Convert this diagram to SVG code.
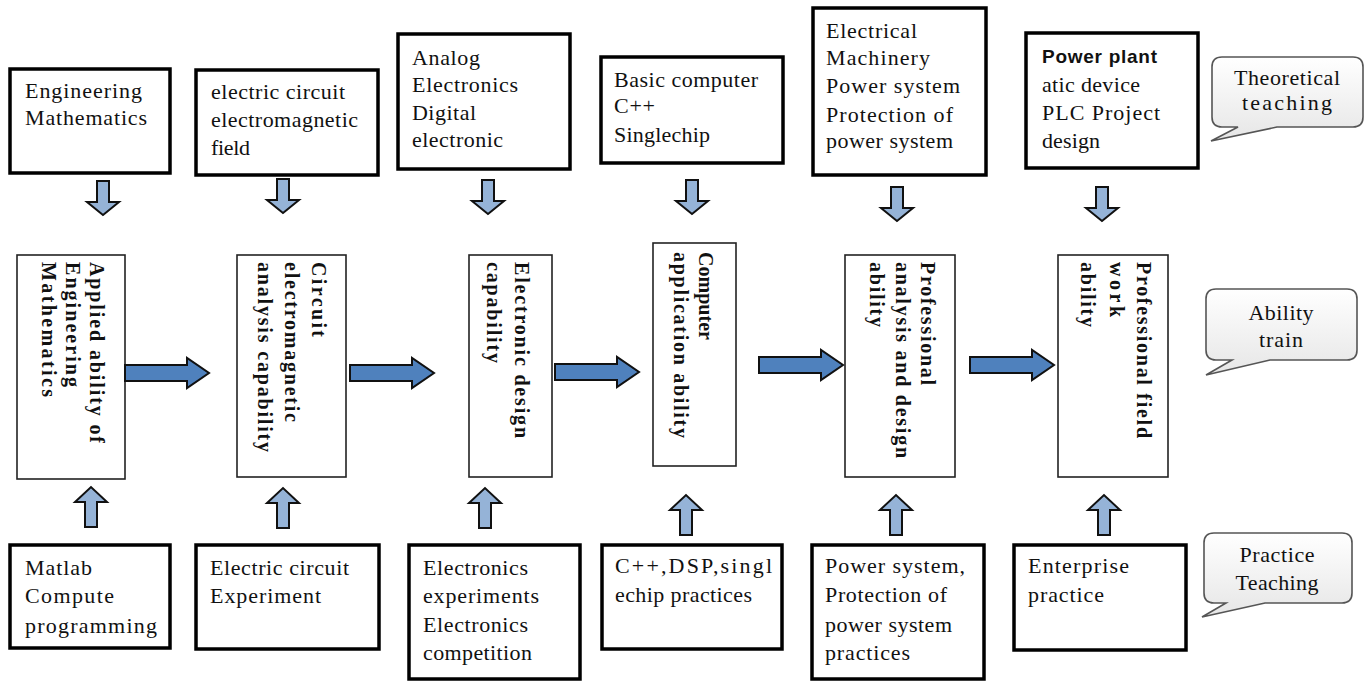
<svg xmlns="http://www.w3.org/2000/svg" width="1368" height="681" viewBox="0 0 1368 681">
<style>
.box{fill:#fff;stroke:#000;stroke-width:3.5}
.mid{fill:#fff;stroke:#222;stroke-width:1.6}
.t{font-family:"Liberation Serif","Times New Roman",serif;font-size:22px;fill:#111}
.v{font-family:"Liberation Serif","Times New Roman",serif;font-size:20px;font-weight:bold;fill:#111}
.s{font-family:"Liberation Sans",Arial,sans-serif;font-size:19px;font-weight:bold;fill:#111}
.c{font-family:"Liberation Serif","Times New Roman",serif;font-size:22px;fill:#111;text-anchor:middle}
.ha{fill:#4F81BD;stroke:#111;stroke-width:2}
.va{fill:#95B3D7;stroke:#111;stroke-width:2}
.call{fill:url(#cg);stroke:#555;stroke-width:1.6}
</style>
<defs>
<linearGradient id="cg" x1="0" y1="0" x2="0" y2="1"><stop offset="0" stop-color="#ffffff"/><stop offset="1" stop-color="#e6e6e6"/></linearGradient>
<path id="harrow" d="M0,-8 H62 V-15 L84,0 L62,15 V8 H0 Z"/>
<path id="darrow" d="M-6,0 H6 V21 H16 L0,34 L-16,21 H-6 Z"/>
<path id="uarrow" d="M-6,40 H6 V15 H16 L0,0 L-16,15 H-6 Z"/>
</defs>
<rect width="1368" height="681" fill="#fff"/>

<g id="theory1"><rect class="box" x="10" y="69" width="160" height="104"/>
<text class="t" x="25" y="98" textLength="117" lengthAdjust="spacing">Engineering</text>
<text class="t" x="25" y="125" textLength="122" lengthAdjust="spacing">Mathematics</text></g>
<g id="theory2"><rect class="box" x="196" y="70" width="182" height="105"/>
<text class="t" x="211" y="99" textLength="134" lengthAdjust="spacing">electric circuit</text>
<text class="t" x="211" y="127" textLength="147" lengthAdjust="spacing">electromagnetic</text>
<text class="t" x="211" y="155" textLength="39" lengthAdjust="spacing">field</text></g>
<g id="theory3"><rect class="box" x="398" y="34" width="172" height="135"/>
<text class="t" x="412" y="65" textLength="68" lengthAdjust="spacing">Analog</text>
<text class="t" x="412" y="92" textLength="106" lengthAdjust="spacing">Electronics</text>
<text class="t" x="412" y="120" textLength="64" lengthAdjust="spacing">Digital</text>
<text class="t" x="412" y="147" textLength="91" lengthAdjust="spacing">electronic</text></g>
<g id="theory4"><rect class="box" x="601" y="57" width="182" height="106"/>
<text class="t" x="614" y="87" textLength="144" lengthAdjust="spacing">Basic computer</text>
<text class="t" x="614" y="113" textLength="41" lengthAdjust="spacing">C++</text>
<text class="t" x="614" y="142" textLength="96" lengthAdjust="spacing">Singlechip</text></g>
<g id="theory5"><rect class="box" x="813" y="8" width="173" height="167"/>
<text class="t" x="826" y="38" textLength="91" lengthAdjust="spacing">Electrical</text>
<text class="t" x="826" y="65" textLength="104" lengthAdjust="spacing">Machinery</text>
<text class="t" x="826" y="93" textLength="134" lengthAdjust="spacing">Power  system</text>
<text class="t" x="826" y="122" textLength="127" lengthAdjust="spacing">Protection of</text>
<text class="t" x="826" y="148" textLength="127" lengthAdjust="spacing">power system</text></g>
<g id="theory6"><rect class="box" x="1026" y="33" width="172" height="135"/>
<text class="s" x="1042" y="63" textLength="115" lengthAdjust="spacing">Power plant</text>
<text class="t" x="1042" y="92" textLength="98" lengthAdjust="spacing">atic device</text>
<text class="t" x="1042" y="120" textLength="118" lengthAdjust="spacing">PLC Project</text>
<text class="t" x="1042" y="148" textLength="58" lengthAdjust="spacing">design</text></g>

<g id="ability1"><rect class="mid" x="17" y="255" width="108" height="224"/>
<g transform="translate(90,262) rotate(90)">
<text class="v" x="0" y="0" textLength="181" lengthAdjust="spacing">Applied ability  of</text>
<text class="v" x="0" y="24" textLength="125" lengthAdjust="spacing">Engineering</text>
<text class="v" x="0" y="48" textLength="135" lengthAdjust="spacing">Mathematics</text></g></g>
<g id="ability2"><rect class="mid" x="237" y="255" width="109" height="222"/>
<g transform="translate(312,262) rotate(90)">
<text class="v" x="0" y="0" textLength="75" lengthAdjust="spacing">Circuit</text>
<text class="v" x="0" y="27" textLength="160" lengthAdjust="spacing">electromagnetic</text>
<text class="v" x="0" y="54" textLength="190" lengthAdjust="spacing">analysis capability</text></g></g>
<g id="ability3"><rect class="mid" x="469" y="255" width="83" height="222"/>
<g transform="translate(515,262) rotate(90)">
<text class="v" x="0" y="0" textLength="176" lengthAdjust="spacing">Electronic design</text>
<text class="v" x="0" y="28" textLength="101" lengthAdjust="spacing">capability</text></g></g>
<g id="ability4"><rect class="mid" x="653" y="243" width="83" height="223"/>
<g transform="translate(699,252) rotate(90)">
<text class="v" x="0" y="0" textLength="88" lengthAdjust="spacing">Computer</text>
<text class="v" x="0" y="25" textLength="186" lengthAdjust="spacing">application ability</text></g></g>
<g id="ability5"><rect class="mid" x="845" y="255" width="110" height="222"/>
<g transform="translate(921,262) rotate(90)">
<text class="v" x="0" y="0" textLength="123" lengthAdjust="spacing">Professional</text>
<text class="v" x="0" y="25" textLength="196" lengthAdjust="spacing">analysis and design</text>
<text class="v" x="0" y="51" textLength="65" lengthAdjust="spacing">ability</text></g></g>
<g id="ability6"><rect class="mid" x="1058" y="255" width="110" height="222"/>
<g transform="translate(1137,262) rotate(90)">
<text class="v" x="0" y="0" textLength="176" lengthAdjust="spacing">Professional field</text>
<text class="v" x="0" y="27" textLength="55" lengthAdjust="spacing">work</text>
<text class="v" x="0" y="56" textLength="65" lengthAdjust="spacing">ability</text></g></g>

<g id="practice1"><rect class="box" x="10" y="545" width="160" height="103"/>
<text class="t" x="25" y="575" textLength="67" lengthAdjust="spacing">Matlab</text>
<text class="t" x="25" y="603" textLength="89" lengthAdjust="spacing">Compute</text>
<text class="t" x="25" y="633" textLength="132" lengthAdjust="spacing">programming</text></g>
<g id="practice2"><rect class="box" x="196" y="545" width="183" height="104"/>
<text class="t" x="210" y="575" textLength="139" lengthAdjust="spacing">Electric circuit</text>
<text class="t" x="210" y="603" textLength="111" lengthAdjust="spacing">Experiment</text></g>
<g id="practice3"><rect class="box" x="409" y="545" width="171" height="134"/>
<text class="t" x="423" y="575" textLength="105" lengthAdjust="spacing">Electronics</text>
<text class="t" x="423" y="603" textLength="116" lengthAdjust="spacing">experiments</text>
<text class="t" x="423" y="632" textLength="105" lengthAdjust="spacing">Electronics</text>
<text class="t" x="423" y="660" textLength="109" lengthAdjust="spacing">competition</text></g>
<g id="practice4"><rect class="box" x="602" y="545" width="180" height="104"/>
<text class="t" x="615" y="573" textLength="157" lengthAdjust="spacing">C++,DSP,singl</text>
<text class="t" x="615" y="602" textLength="137" lengthAdjust="spacing">echip practices</text></g>
<g id="practice5"><rect class="box" x="812" y="545" width="172" height="134"/>
<text class="t" x="825" y="573" textLength="140" lengthAdjust="spacing">Power  system,</text>
<text class="t" x="825" y="602" textLength="122" lengthAdjust="spacing">Protection of</text>
<text class="t" x="825" y="632" textLength="127" lengthAdjust="spacing">power system</text>
<text class="t" x="825" y="660" textLength="85" lengthAdjust="spacing">practices</text></g>
<g id="practice6"><rect class="box" x="1014" y="545" width="172" height="105"/>
<text class="t" x="1028" y="573" textLength="101" lengthAdjust="spacing">Enterprise</text>
<text class="t" x="1028" y="602" textLength="76" lengthAdjust="spacing">practice</text></g>

<g id="callout-theory">
<path class="call" d="M1222,57 H1353 Q1363,57 1363,67 V117 Q1363,127 1353,127 H1277 L1211,141 L1238,127 H1222 Q1212,127 1212,117 V67 Q1212,57 1222,57 Z"/>
<text class="c" x="1287" y="85" textLength="106" lengthAdjust="spacing">Theoretical</text>
<text class="c" x="1287" y="110" textLength="90" lengthAdjust="spacing">teaching</text></g>
<g id="callout-ability">
<path class="call" d="M1216,289 H1347 Q1357,289 1357,299 V350 Q1357,360 1347,360 H1270 L1206,375 L1232,360 H1216 Q1206,360 1206,350 V299 Q1206,289 1216,289 Z"/>
<text class="c" x="1281" y="320" textLength="65" lengthAdjust="spacing">Ability</text>
<text class="c" x="1281" y="347" textLength="44" lengthAdjust="spacing">train</text></g>
<g id="callout-practice">
<path class="call" d="M1214,533 H1342 Q1352,533 1352,543 V593 Q1352,603 1342,603 H1265 L1202,617 L1226,603 H1214 Q1204,603 1204,593 V543 Q1204,533 1214,533 Z"/>
<text class="c" x="1277" y="562" textLength="75" lengthAdjust="spacing">Practice</text>
<text class="c" x="1277" y="590" textLength="83" lengthAdjust="spacing">Teaching</text></g>

<g id="connectors">
<use href="#harrow" class="ha" x="125" y="373"/>
<use href="#harrow" class="ha" x="350" y="373"/>
<use href="#harrow" class="ha" x="555" y="372"/>
<use href="#harrow" class="ha" x="759" y="365"/>
<use href="#harrow" class="ha" x="970" y="365"/>
<use href="#darrow" class="va" x="103" y="181"/>
<use href="#darrow" class="va" x="283" y="179"/>
<use href="#darrow" class="va" x="488" y="180"/>
<use href="#darrow" class="va" x="692" y="180"/>
<use href="#darrow" class="va" x="897" y="187"/>
<use href="#darrow" class="va" x="1102" y="187"/>
<use href="#uarrow" class="va" x="91" y="487"/>
<use href="#uarrow" class="va" x="283" y="488"/>
<use href="#uarrow" class="va" x="485" y="488"/>
<use href="#uarrow" class="va" x="686" y="495"/>
<use href="#uarrow" class="va" x="896" y="495"/>
<use href="#uarrow" class="va" x="1104" y="495"/>
</g>
</svg>
